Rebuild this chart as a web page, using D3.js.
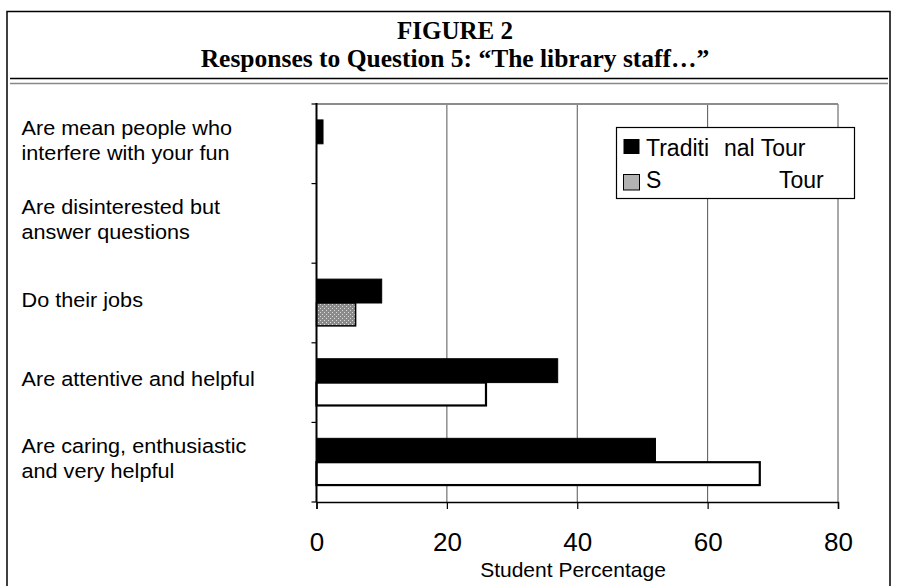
<!DOCTYPE html>
<html>
<head>
<meta charset="utf-8">
<script src="https://cdn.jsdelivr.net/npm/d3@7"></script>
<style>
  html, body { margin: 0; padding: 0; background: #fff; }
  svg { display: block; }
</style>
</head>
<body>
<svg id="chart" width="898" height="586"></svg>
<script>
// ---- data ----
const categories = [
  ["Are mean people who", "interfere with your fun"],
  ["Are disinterested but", "answer questions"],
  ["Do their jobs"],
  ["Are attentive and helpful"],
  ["Are caring, enthusiastic", "and very helpful"]
];
const traditional = [1, 0, 10, 37, 52];
const sponsored = [0, 0, 6, 26, 68];
const seriesNames = ["Traditional Tour", "Sponsored Tour"];
const legendLabels = [["Traditi", "nal Tour"], ["S", "Tour"]];
const xTicks = [0, 20, 40, 60, 80];
const titleText = "FIGURE 2";
const subtitleText = "Responses to Question 5: \u201CThe library staff\u2026\u201D";
const axisTitle = "Student Percentage";

// ---- layout ----
const svg = d3.select("#chart");
const plot = { left: 316.5, top: 104, right: 838, bottom: 502 };

const defs = svg.append("defs");
const pat = defs.append("pattern").attr("id", "dots")
  .attr("width", 4).attr("height", 4).attr("patternUnits", "userSpaceOnUse");
pat.append("rect").attr("width", 4).attr("height", 4).attr("fill", "#8a8a8a");
pat.append("rect").attr("x", 0).attr("y", 0).attr("width", 1).attr("height", 1).attr("fill", "#dcdcdc");
pat.append("rect").attr("x", 2).attr("y", 2).attr("width", 1).attr("height", 1).attr("fill", "#dcdcdc");

// frame
svg.append("rect").attr("x", 7).attr("y", 11.5).attr("width", 883).attr("height", 640)
  .attr("fill", "none").attr("stroke", "#000").attr("stroke-width", 1.5);

// titles
svg.append("text").attr("x", 455).attr("y", 39).attr("text-anchor", "middle")
  .attr("font-family", "'Liberation Serif', 'Times New Roman', serif")
  .attr("font-weight", "bold").attr("font-size", 25).text(titleText);
svg.append("text").attr("x", 455).attr("y", 66.5).attr("text-anchor", "middle")
  .attr("font-family", "'Liberation Serif', 'Times New Roman', serif")
  .attr("font-weight", "bold").attr("font-size", 25.5).text(subtitleText);
svg.append("line").attr("x1", 10).attr("x2", 888).attr("y1", 78.5).attr("y2", 78.5)
  .attr("stroke", "#000").attr("stroke-width", 1.5);
svg.append("line").attr("x1", 10).attr("x2", 888).attr("y1", 83.5).attr("y2", 83.5)
  .attr("stroke", "#888").attr("stroke-width", 1.5);

// scales
const x = d3.scaleLinear().domain([0, 80]).range([plot.left, plot.right]);
const y0 = d3.scaleBand().domain(d3.range(categories.length))
  .range([plot.top, plot.bottom]).padding(0);
const y1 = d3.scaleBand().domain(seriesNames).range([0, y0.bandwidth()])
  .paddingInner(0).paddingOuter(0.667);

// gridlines
const g = svg.append("g");
g.selectAll("line.grid").data(xTicks.filter(d => d > 0 && d < 80)).enter().append("line")
  .attr("class", "grid")
  .attr("x1", d => x(d)).attr("x2", d => x(d))
  .attr("y1", plot.top).attr("y2", plot.bottom)
  .attr("stroke", "#555").attr("stroke-width", 1);
// top + right borders (gray)
g.append("line").attr("x1", plot.left).attr("x2", plot.right).attr("y1", plot.top).attr("y2", plot.top)
  .attr("stroke", "#8c8c8c").attr("stroke-width", 2);
g.append("line").attr("x1", plot.right).attr("x2", plot.right).attr("y1", plot.top).attr("y2", plot.bottom)
  .attr("stroke", "#8c8c8c").attr("stroke-width", 1.5);

// bars
const rows = categories.map((c, i) => ({ i, name: c.join(" "), vals: [traditional[i], sponsored[i]] }));
const patterned = "Do their jobs";
rows.forEach(r => {
  if (r.vals[0] > 0) {
    g.append("rect")
      .attr("x", x(0)).attr("y", y0(r.i) + y1(seriesNames[0]))
      .attr("width", x(r.vals[0]) - x(0)).attr("height", y1.bandwidth())
      .attr("fill", "#000").attr("stroke", "#000").attr("stroke-width", 1);
  }
  if (r.vals[1] > 0) {
    const isPat = r.name === patterned;
    g.append("rect")
      .attr("x", x(0)).attr("y", y0(r.i) + y1(seriesNames[1]))
      .attr("width", x(r.vals[1]) - x(0)).attr("height", y1.bandwidth() - 1)
      .attr("fill", isPat ? "url(#dots)" : "#fff")
      .attr("stroke", "#000").attr("stroke-width", isPat ? 1.5 : 2.2);
  }
});

// left axis
g.append("line").attr("x1", plot.left).attr("x2", plot.left).attr("y1", plot.top - 1).attr("y2", plot.bottom)
  .attr("stroke", "#000").attr("stroke-width", 2);
const bounds = d3.range(categories.length + 1).map(i => i < categories.length ? y0(i) : plot.bottom);
g.selectAll("line.ytick").data(bounds).enter().append("line")
  .attr("x1", plot.left - 5).attr("x2", plot.left)
  .attr("y1", d => d).attr("y2", d => d)
  .attr("stroke", "#000").attr("stroke-width", 1.2);

// bottom axis
const xAxis = d3.axisBottom(x).tickValues(xTicks).tickSize(7).tickPadding(0).tickFormat(d3.format("d"));
const ax = svg.append("g").attr("transform", `translate(0,${plot.bottom})`).call(xAxis);
ax.select(".domain").attr("stroke", "#000").attr("stroke-width", 1.5);
ax.selectAll(".tick line").attr("stroke", "#000").attr("stroke-width", 1.2);
ax.selectAll(".tick text")
  .attr("y", 48.5).attr("dy", null)
  .attr("font-family", "'Liberation Sans', Arial, sans-serif")
  .attr("font-size", 26).attr("fill", "#000");

svg.append("text").attr("x", 573).attr("y", 576.5).attr("text-anchor", "middle")
  .attr("font-family", "'Liberation Sans', Arial, sans-serif").attr("font-size", 21)
  .text(axisTitle);

// category labels
categories.forEach((lines, i) => {
  const c = y0(i) + y0.bandwidth() / 2;
  lines.forEach((ln, k) => {
    const base = c + 3.5 + (k - (lines.length - 1) / 2) * 25;
    svg.append("g").attr("transform", `translate(21.5,${base}) scale(1.11,1)`)
      .append("text").attr("x", 0).attr("y", 0)
      .attr("font-family", "'Liberation Sans', Arial, sans-serif").attr("font-size", 19.5)
      .text(ln);
  });
});

// legend
const lg = svg.append("g");
lg.append("rect").attr("x", 616.5).attr("y", 127.5).attr("width", 238).attr("height", 71)
  .attr("fill", "#fff").attr("stroke", "#000").attr("stroke-width", 1.2);
lg.append("rect").attr("x", 623.5).attr("y", 139).attr("width", 16).attr("height", 15)
  .attr("fill", "#000");
lg.append("rect").attr("x", 623.5).attr("y", 174.5).attr("width", 16).attr("height", 15.5)
  .attr("fill", "#b2b2b2").attr("stroke", "#000").attr("stroke-width", 1);
const legendSecondX = [724, 779];
const legendBase = [156, 188];
legendLabels.forEach((parts, i) => {
  const t = lg.append("text").attr("y", legendBase[i])
    .attr("font-family", "'Liberation Sans', Arial, sans-serif").attr("font-size", 23);
  t.append("tspan").attr("x", 646).text(parts[0]);
  t.append("tspan").attr("x", legendSecondX[i]).text(parts[1]);
});
</script>
</body>
</html>
